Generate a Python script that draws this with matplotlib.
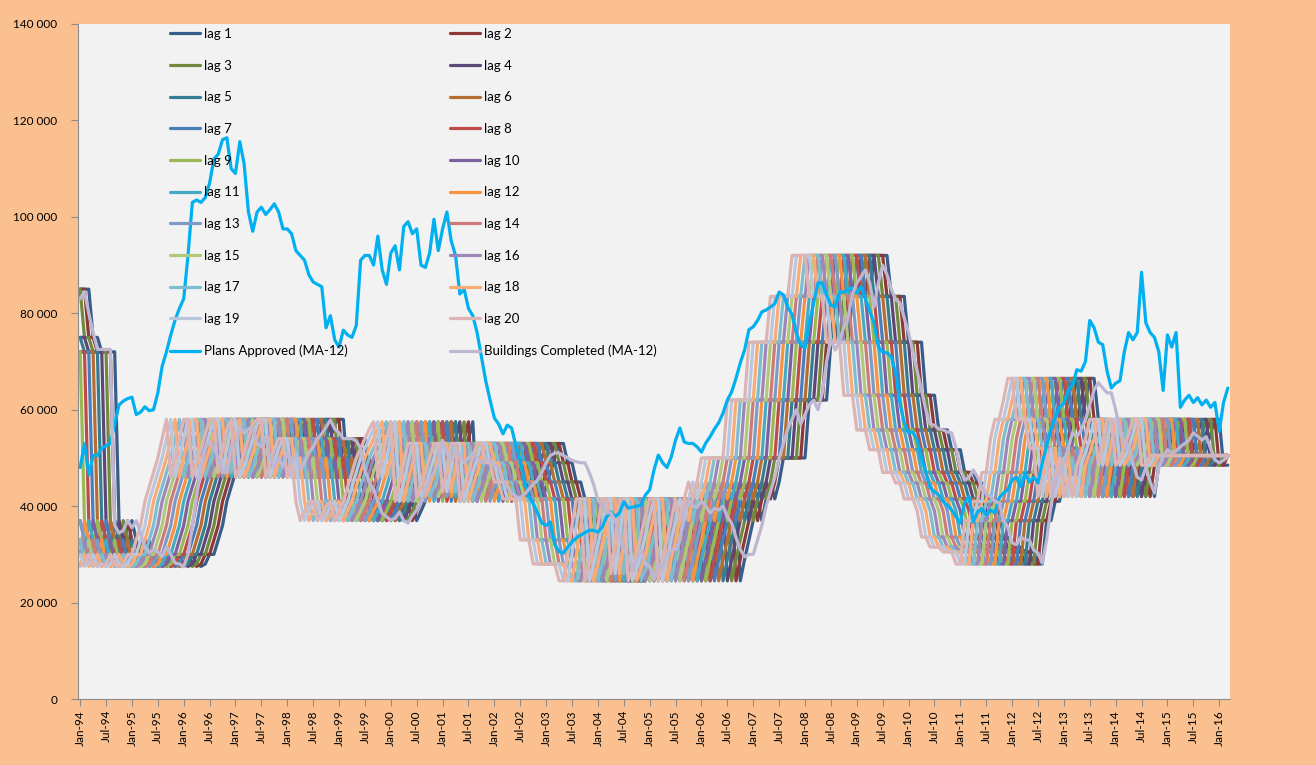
import numpy as np
import pandas as pd
import matplotlib
matplotlib.use('Agg')
import matplotlib.pyplot as plt
from matplotlib.ticker import FuncFormatter

plt.rcParams['font.family'] = ['Lato', 'DejaVu Sans']

# monthly axis, Jan-94 .. Mar-16
months = pd.date_range('1994-01-01', '2016-03-01', freq='MS')
month_labels = [d.strftime('%b-%y') for d in months]

# Plans Approved (MA-12), thousands, one row per year
plans_approved = [
    48, 53, 46.5, 50.5, 50.5, 52, 52.5, 53, 57, 61, 61.8, 62.3,
    62.6, 59, 59.5, 60.6, 59.8, 60, 63.5, 69, 72, 75.5, 78.6, 81,
    83, 92, 103, 103.5, 103, 104, 107, 112, 113, 116, 116.4, 110,
    109, 115.6, 111, 101, 97, 101, 102, 100.5, 101.5, 102.7, 101, 97.5,
    97.5, 96.5, 93, 92, 91, 88, 86.5, 86, 85.5, 77, 79.5, 74.5,
    73, 76.5, 75.5, 75, 77.5, 91, 92, 92, 90, 96, 89, 86,
    92.5, 94, 89, 98, 99, 96.5, 97.5, 90, 89.5, 92.5, 99.5, 93,
    97.5, 101, 95, 92, 84, 85, 81, 79.5, 76, 71, 66, 62,
    58.3, 57, 55, 56.8, 56.2, 52.5, 49.5, 45, 42, 40.5, 38.6, 36.5,
    36, 36.7, 32, 30.5, 30.3, 31.5, 32.6, 33.4, 34, 34.5, 35, 35,
    34.6, 35.7, 37.8, 38.8, 37.8, 38.6, 40.9, 39.6, 39.8, 40, 40.2, 42.3,
    43.4, 47.5, 50.6, 49, 48, 50.2, 53.7, 56.2, 53.3, 53, 53, 52.3,
    51.2, 53.1, 54.4, 56, 57.3, 59.3, 62, 63.7, 66.5, 69.7, 72.4, 76.6,
    77.2, 78.5, 80.3, 80.7, 81.3, 82, 84.4, 83.8, 81.3, 79.7, 75.9, 73.4,
    72.8, 78, 82.2, 86.3, 86.3, 83.8, 81.7, 81.3, 84.4, 84.4, 84.9, 85.3,
    84.2, 85.5, 83, 80.5, 78, 73, 72, 71.8, 71, 67.6, 61.4, 57.3,
    55.2, 55.4, 53.7, 50, 47, 43.8, 43, 42.3, 41, 40.2, 39.2, 37.8,
    36.5, 40.7, 42, 36.7, 38.8, 39.5, 38.2, 39.2, 38.6, 41.7, 42.7, 43.4,
    45.4, 46, 44, 46.9, 45, 46, 44.8, 49, 52.5, 56, 58.5, 60.4,
    61.4, 64.1, 65, 68.3, 68, 70, 78.5, 77, 74, 73.5, 68, 64.5,
    65.5, 66, 72, 76, 74.5, 76, 88.5, 78, 76, 75, 72, 64,
    75.5, 73, 76, 60.5, 62, 63, 61.5, 62.5, 61, 62, 60.5, 61.5,
    55.5, 61.5, 64.5,
]

# Buildings Completed (MA-12), thousands
buildings_completed = [
    83, 84.5, 80, 76, 72.5, 72.5, 72.5, 72.5, 36, 34.4, 35, 37,
    35.5, 37, 34.4, 31.5, 30.3, 31, 30.5, 29.5, 31.5, 30, 28.2, 28,
    27.4, 30, 36, 42, 48, 52, 53.5, 52, 50, 47, 47, 52,
    53, 56.4, 55.2, 56, 56.4, 53, 52.3, 54.4, 50, 48, 50, 48.1,
    51, 49, 51, 47.5, 49, 51, 52.3, 54, 55, 56.4, 57.9, 56,
    55.2, 54, 54, 54, 53.5, 52, 47.5, 45, 43.4, 41, 38.5, 37.8,
    37.1, 37.5, 38.8, 37, 36.5, 38, 39.2, 41, 43.4, 45.5, 47, 49,
    53.7, 51, 49.6, 51.7, 50.5, 49, 50, 51, 50, 49, 49.5, 49.6,
    48.5, 48.1, 45.4, 44, 42.7, 42, 41.7, 42.5, 43.5, 44.5, 45.4, 47,
    49, 50.5, 51, 51, 50.5, 50, 49.5, 49.2, 49, 49, 47, 44.5,
    41.3, 40, 38.6, 38.6, 37, 34, 31, 29.5, 26.8, 29, 31, 28,
    27.5, 24.7, 28.2, 27, 30, 31, 31, 33, 38.6, 41.3, 40, 39.8,
    41, 40, 38.6, 39.5, 39.2, 40, 37.8, 36.5, 33.5, 31, 29.5, 30,
    30, 33, 36, 40, 43, 46, 50, 53, 56, 58, 60, 57,
    59, 61, 62, 60, 63.5, 70, 74.5, 72.4, 74, 77.2, 79.3, 84,
    86.3, 87.6, 89, 86.3, 81.3, 86.3, 90, 88, 85, 82.8, 82.2, 79,
    76, 72, 68, 64, 60, 57, 56.8, 56, 55.8, 55.4, 55.2, 52,
    47.5, 45.4, 46, 47.5, 46, 44, 42.5, 42, 41, 40.7, 37, 35.7,
    32.4, 32, 33.6, 33, 33, 30.9, 30.3, 28.2, 33, 40, 45.4, 46.9,
    49, 52, 55.2, 54.4, 55.8, 57.9, 61, 64.1, 65.6, 64.5, 63.5, 63.5,
    60, 55.8, 53, 52.3, 49, 46, 45.4, 48.1, 45, 42.7, 48, 50.2,
    51.7, 51, 51.5, 52.3, 53, 53.7, 55.2, 54.5, 53.7, 54.4, 52, 49.6,
    49, 49.5, 50.2,
]

# monthly series behind the lag lines (thousands), Feb-94 onwards;
# "lag k" is this series moved k months
lag_base = [
    85, 85, 85, 75, 75, 72, 72, 72, 72,
    37, 33, 30, 37, 33, 28, 30, 33, 28, 30, 27.5, 28,
    30, 27.5, 28, 27.5, 28, 30, 28, 27.5, 28, 30,
    30, 33, 36, 41, 44, 47, 50, 54, 58,
    46, 50, 54, 58, 58, 46, 49, 52, 55, 58, 58, 47, 52, 56, 58,
    46, 48, 51, 54, 57, 58, 58, 46, 49, 52, 54, 54, 46, 50,
    41, 37, 39, 41, 41, 37, 38, 40, 41, 37, 39, 41, 44, 47, 50, 52, 54, 56,
    57.5, 46, 50, 54, 57.5, 41, 45, 49, 53, 53, 42, 44, 47, 50, 53, 53,
    43, 48, 53, 53, 41, 44, 47, 50, 53, 53,
    49, 49, 45, 45, 41.5, 41.5, 41.5, 41.5, 33, 33, 33, 28, 28, 28, 28, 28, 28, 24.5,
    24.5, 30, 36, 41.5, 41.5, 24.5, 28, 32, 36, 41.5, 41.5, 26, 33, 41.5, 41.5,
    24.5, 27, 30, 34, 38, 41.5, 41.5, 24.5, 29, 33, 37, 41.5, 37, 41.5,
    45, 41.5, 45, 50, 50, 50, 50, 50, 50, 62, 62, 62, 62, 62,
    74, 74, 74, 74, 74, 83.5, 83.5, 83.5, 83.5, 83.5, 92, 92, 92, 92,
    83.5, 83.5, 83.5, 83.5, 74, 74, 74, 74, 63, 63, 63, 55.8, 55.8, 55.8,
    51.7, 51.7, 51.7, 47, 47, 47, 44.8, 44.8, 41.5, 41.5, 41.5, 39,
    33.6, 33.6, 31.5, 31.5, 31.5, 30.5, 30.5, 30.5, 28, 28,
    37, 37, 41, 41, 47, 47, 54, 58, 58, 62, 66.5, 66.5,
    58, 58, 58, 52, 52, 42, 47, 52, 42, 46, 50, 42, 46, 42,
    48.5, 51, 54, 58, 58, 48.5, 53, 58, 58, 48.5, 50, 52, 55, 58, 58,
    48.5, 48.5,
    50.5, 50.5, 50.5, 50.5, 50.5, 50.5, 50.5, 50.5, 50.5, 50.5,
    50.5, 50.5, 50.5, 50.5, 50.5, 50.5, 50.5, 50.5, 50.5,
]

lag_colors = [
    '#385D8A', '#8C3836', '#71893F', '#5C4776', '#357D91', '#B66D31',
    '#4A7EBB', '#BE4B48', '#98B954', '#7D60A0', '#46AAC5', '#F69240',
    '#7E9BC8', '#CC7B79', '#AFC97A', '#9C87B8', '#7CBDD0', '#F9AA75',
    '#B9C7DE', '#DCB4B3',
]
plans_color = '#00B0F0'
completed_color = '#BFB6D1'

n = len(months)
x = np.arange(n)
base = np.array(lag_base) * 1000

fig = plt.figure(figsize=(13.16, 7.65), dpi=100, facecolor='#FAC090')
ax = fig.add_axes([78 / 1316, 66 / 765, 1152 / 1316, 675 / 765])
ax.set_facecolor('#F2F2F2')

line_kw = dict(lw=2.3, solid_joinstyle='round', solid_capstyle='round')
handles = []
for k in range(1, 21):
    h, = ax.plot(x, base[k - 1:k - 1 + n], color=lag_colors[k - 1], label=f'lag {k}', **line_kw)
    handles.append(h)
h_pa, = ax.plot(x, np.array(plans_approved) * 1000, color=plans_color,
                label='Plans Approved (MA-12)', **line_kw)
h_bc, = ax.plot(x, np.array(buildings_completed) * 1000, color=completed_color,
                label='Buildings Completed (MA-12)', **line_kw)

ax.set_xlim(-0.5, n - 0.5)
ax.set_ylim(0, 140000)
ax.set_yticks(range(0, 140001, 20000))
ax.yaxis.set_major_formatter(FuncFormatter(lambda v, p: f'{int(v):,}'.replace(',', ' ')))
ax.set_xticks(x[::6])
ax.set_xticklabels(month_labels[::6], rotation=90)

for side in ['top', 'right']:
    ax.spines[side].set_visible(False)
for side in ['left', 'bottom']:
    ax.spines[side].set_color('#8C8C8C')
ax.tick_params(axis='both', direction='out', length=5, color='#8C8C8C', labelsize=8.5)
ax.tick_params(axis='x', pad=3)
ax.tick_params(axis='y', pad=10)

# legend in two columns, filled row by row like the original
leg_kw = dict(frameon=False, fontsize=9.5, handlelength=2.3, handletextpad=0.25,
              labelspacing=1.49, borderpad=0, borderaxespad=0, loc='upper left')
left_items = handles[0::2] + [h_pa]
right_items = handles[1::2] + [h_bc]
fig.legend(handles=left_items, labels=[h.get_label() for h in left_items],
           bbox_to_anchor=(170 / 1316, 1 - 28 / 765), **leg_kw)
fig.legend(handles=right_items, labels=[h.get_label() for h in right_items],
           bbox_to_anchor=(450 / 1316, 1 - 28 / 765), **leg_kw)

fig.savefig('out.png', dpi=100, facecolor=fig.get_facecolor())
